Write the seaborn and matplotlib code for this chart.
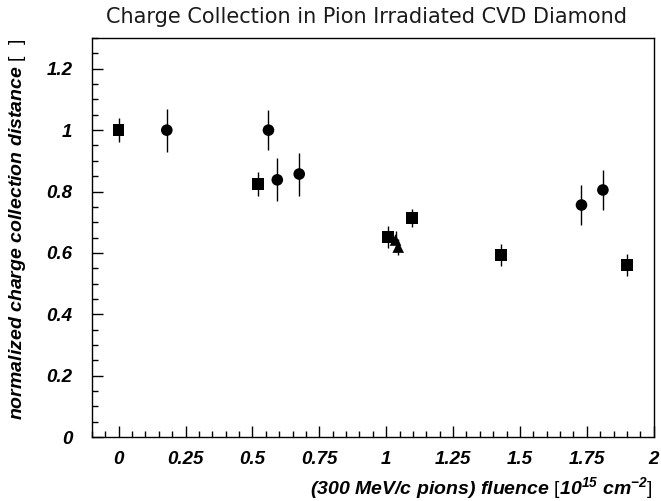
import matplotlib
matplotlib.use("Agg")
import matplotlib.pyplot as plt
from matplotlib.ticker import MultipleLocator, FuncFormatter
import seaborn as sns
import pandas as pd

# Pion fluence (10^15 cm^-2), normalized CCD and its uncertainty, per sample set
square_x = [0.00, 0.52, 1.007, 1.097, 1.43, 1.90]
square_y = [1.00, 0.825, 0.652, 0.714, 0.593, 0.560]
square_err = [0.04, 0.04, 0.035, 0.03, 0.035, 0.035]

circle_x = [0.18, 0.56, 0.593, 0.675, 1.73, 1.81]
circle_y = [1.00, 1.00, 0.838, 0.857, 0.756, 0.805]
circle_err = [0.07, 0.065, 0.07, 0.07, 0.065, 0.065]

triangle_x = [1.035, 1.045]
triangle_y = [0.642, 0.619]
triangle_err = [0.03, 0.025]

sns.set_theme(style="ticks")
plt.rcParams["font.family"] = ["Liberation Sans", "DejaVu Sans"]
plt.rcParams["mathtext.fontset"] = "custom"
plt.rcParams["mathtext.rm"] = "Liberation Sans:bold:italic"
plt.rcParams["mathtext.it"] = "Liberation Sans:bold:italic"
plt.rcParams["mathtext.sf"] = "Liberation Sans"

df = pd.DataFrame({
    "fluence": square_x + circle_x + triangle_x,
    "ccd": square_y + circle_y + triangle_y,
    "err": square_err + circle_err + triangle_err,
    "set": ["square"] * len(square_x) + ["circle"] * len(circle_x) + ["triangle"] * len(triangle_x),
})

fig = plt.figure(figsize=(6.61, 5.01), dpi=100)
ax = fig.add_axes([0.139, 0.1277, 0.850, 0.7963])

ax.errorbar(df["fluence"], df["ccd"], yerr=df["err"], fmt="none",
            ecolor="black", elinewidth=1.0, capsize=0, zorder=2)
sns.scatterplot(data=df, x="fluence", y="ccd", style="set", hue="set",
                palette={"square": "black", "circle": "black", "triangle": "black"},
                markers={"square": "s", "circle": "o", "triangle": "^"},
                s=70, edgecolor="black", linewidth=0, legend=False, ax=ax, zorder=3)

ax.set_xlim(-0.1, 2.0)
ax.set_ylim(0, 1.3)
ax.xaxis.set_major_locator(MultipleLocator(0.25))
ax.xaxis.set_minor_locator(MultipleLocator(0.05))
ax.yaxis.set_major_locator(MultipleLocator(0.2))
ax.yaxis.set_minor_locator(MultipleLocator(0.05))


def fmt(v, pos):
    return f"{v:.2f}".rstrip("0").rstrip(".")


ax.xaxis.set_major_formatter(FuncFormatter(fmt))
ax.yaxis.set_major_formatter(FuncFormatter(fmt))

ax.tick_params(which="both", direction="in", top=False, right=False,
               color="black", width=1.0, labelsize=13.5, labelcolor="black")
ax.tick_params(which="major", length=8)
ax.tick_params(which="minor", length=4)
ax.tick_params(axis="x", which="major", pad=10)
ax.tick_params(axis="y", which="major", pad=14)
for lab in ax.get_xticklabels() + ax.get_yticklabels():
    lab.set_fontweight("bold")
    lab.set_fontstyle("italic")

for sp in ax.spines.values():
    sp.set_visible(True)
    sp.set_color("black")
    sp.set_linewidth(1.0)

ax.set_xlabel("")
ax.set_ylabel("")

fig.text(0.987, 0.026,
         r"(300 MeV/c pions) fluence $\mathsf{[}10^{15}$ cm$^{-2}\mathsf{]}$",
         ha="right", va="center", fontsize=14, fontweight="bold",
         fontstyle="italic", color="black")
fig.text(0.027, 0.924, r"normalized charge collection distance $\mathsf{[\ \ ]}$",
         rotation=90, ha="center", va="top", fontsize=14,
         fontweight="bold", fontstyle="italic", color="black")
fig.text(0.555, 0.967, "Charge Collection in Pion Irradiated CVD Diamond",
         ha="center", va="center", fontsize=15, fontfamily="DejaVu Sans",
         fontweight="normal", color="#1a1a1a")

fig.savefig("out.png", dpi=100, facecolor="white")
